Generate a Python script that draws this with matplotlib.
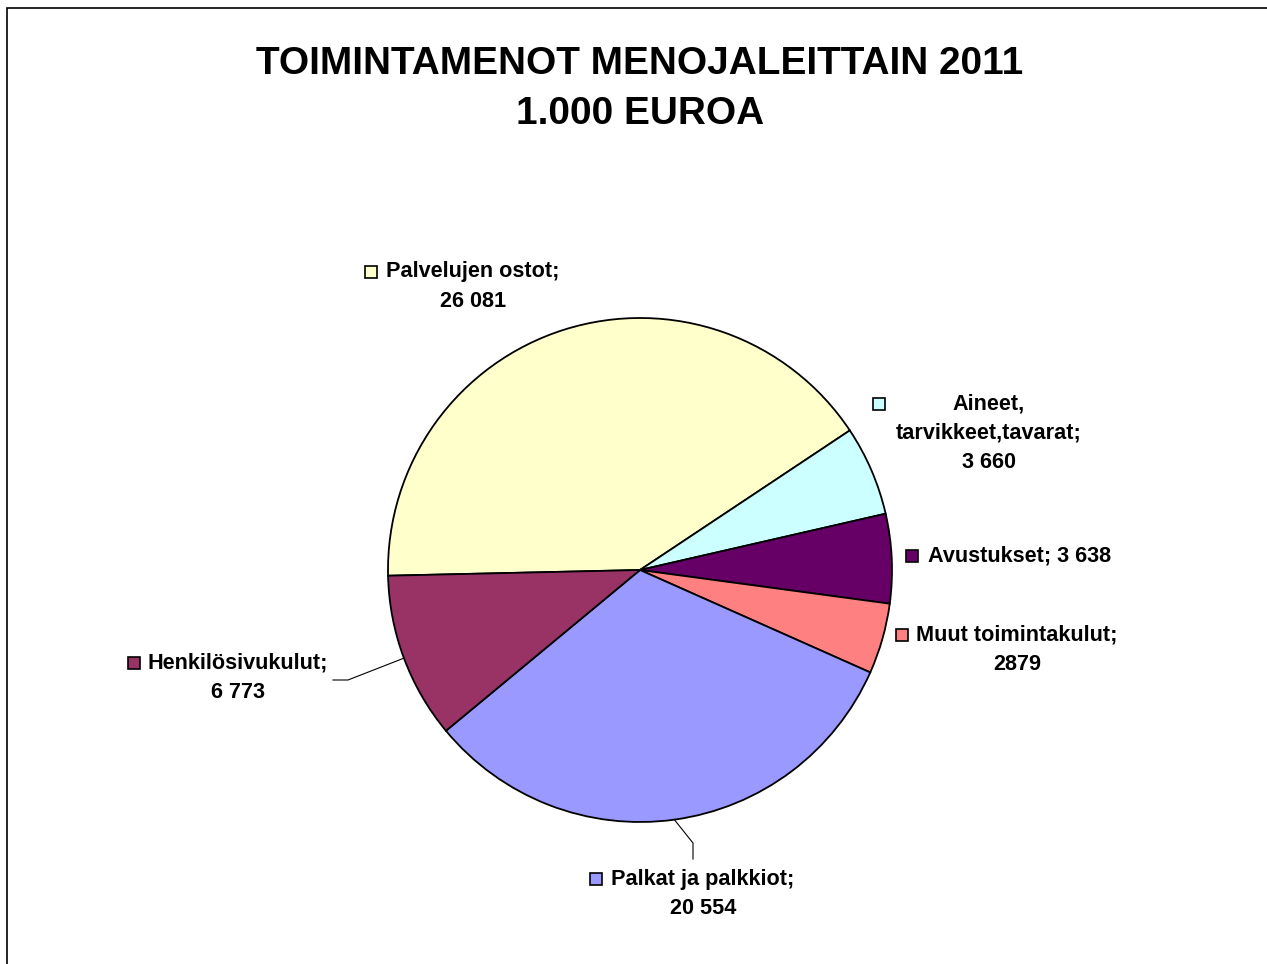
import numpy as np
import matplotlib
matplotlib.use("Agg")
import matplotlib.pyplot as plt
from matplotlib.patches import Rectangle

# Chart data (1.000 euroa)
categories = ["Palvelujen ostot", "Aineet, tarvikkeet,tavarat", "Avustukset",
              "Muut toimintakulut", "Palkat ja palkkiot", "Henkilösivukulut"]
values = [26081, 3660, 3638, 2879, 20554, 6773]
value_labels = ["26 081", "3 660", "3 638", "2879", "20 554", "6 773"]
colors = ["#FFFFCC", "#CCFFFF", "#660066", "#FF8080", "#9999FF", "#993366"]
label_lines = [
    ["Palvelujen ostot;", "26 081"],
    ["Aineet,", "tarvikkeet,tavarat;", "3 660"],
    ["Avustukset; 3 638"],
    ["Muut toimintakulut;", "2879"],
    ["Palkat ja palkkiot;", "20 554"],
    ["Henkilösivukulut;", "6 773"],
]

W, H = 1267, 964
FONT = "Liberation Sans"

fig = plt.figure(figsize=(W / 100, H / 100), dpi=100)
ax = fig.add_axes([0, 0, 1, 1])

cx, cy, r = 640, H - 570, 252
wedges, _ = ax.pie(values, colors=colors, startangle=181.3, counterclock=False,
                   center=(cx, cy), radius=r,
                   wedgeprops=dict(edgecolor="black", linewidth=1.3))
ax.set_xlim(0, W)
ax.set_ylim(0, H)
ax.axis("off")

# chart frame (only top and left edges visible in the original)
ax.add_patch(Rectangle((7, -10), W + 20, H - 8 + 10, fill=False,
                       edgecolor="black", linewidth=1.2))

fig.text(640 / W, 1 - 64 / H, "TOIMINTAMENOT MENOJALEITTAIN 2011",
         ha="center", va="center", fontsize=27.9, fontweight="bold", family=FONT)
fig.text(640 / W, 1 - 114 / H, "1.000 EUROA",
         ha="center", va="center", fontsize=27.9, fontweight="bold", family=FONT)

# label layout: text-center x, first-line y (pixels from top), key square x
label_pos = [
    (473, 272, 371),
    (989, 404, 879),
    (1020, 556, 912),
    (1017, 635, 902),
    (703, 879, 596),
    (238, 663, 134),
]
step = 29.5
for lines, (tx, ty, kx), col in zip(label_lines, label_pos, colors):
    for i, line in enumerate(lines):
        ax.text(tx, H - (ty + i * step), line, ha="center", va="center",
                fontsize=15.6, fontweight="bold", family=FONT)
    ax.add_patch(Rectangle((kx - 6, H - ty - 6), 12, 12, facecolor=col,
                           edgecolor="black", linewidth=1.2))

# leader lines from wedge edge
def edge_point(w):
    mid = np.deg2rad((w.theta1 + w.theta2) / 2)
    return cx + r * np.cos(mid), cy + r * np.sin(mid)

ex, ey = edge_point(wedges[5])
ax.plot([ex, 348, 333], [ey, H - 680, H - 680], color="black", lw=0.8)
ex, ey = edge_point(wedges[4])
ax.plot([ex, 693, 693], [ey, H - 843, H - 859], color="black", lw=0.8)

fig.savefig("out.png", dpi=100)
